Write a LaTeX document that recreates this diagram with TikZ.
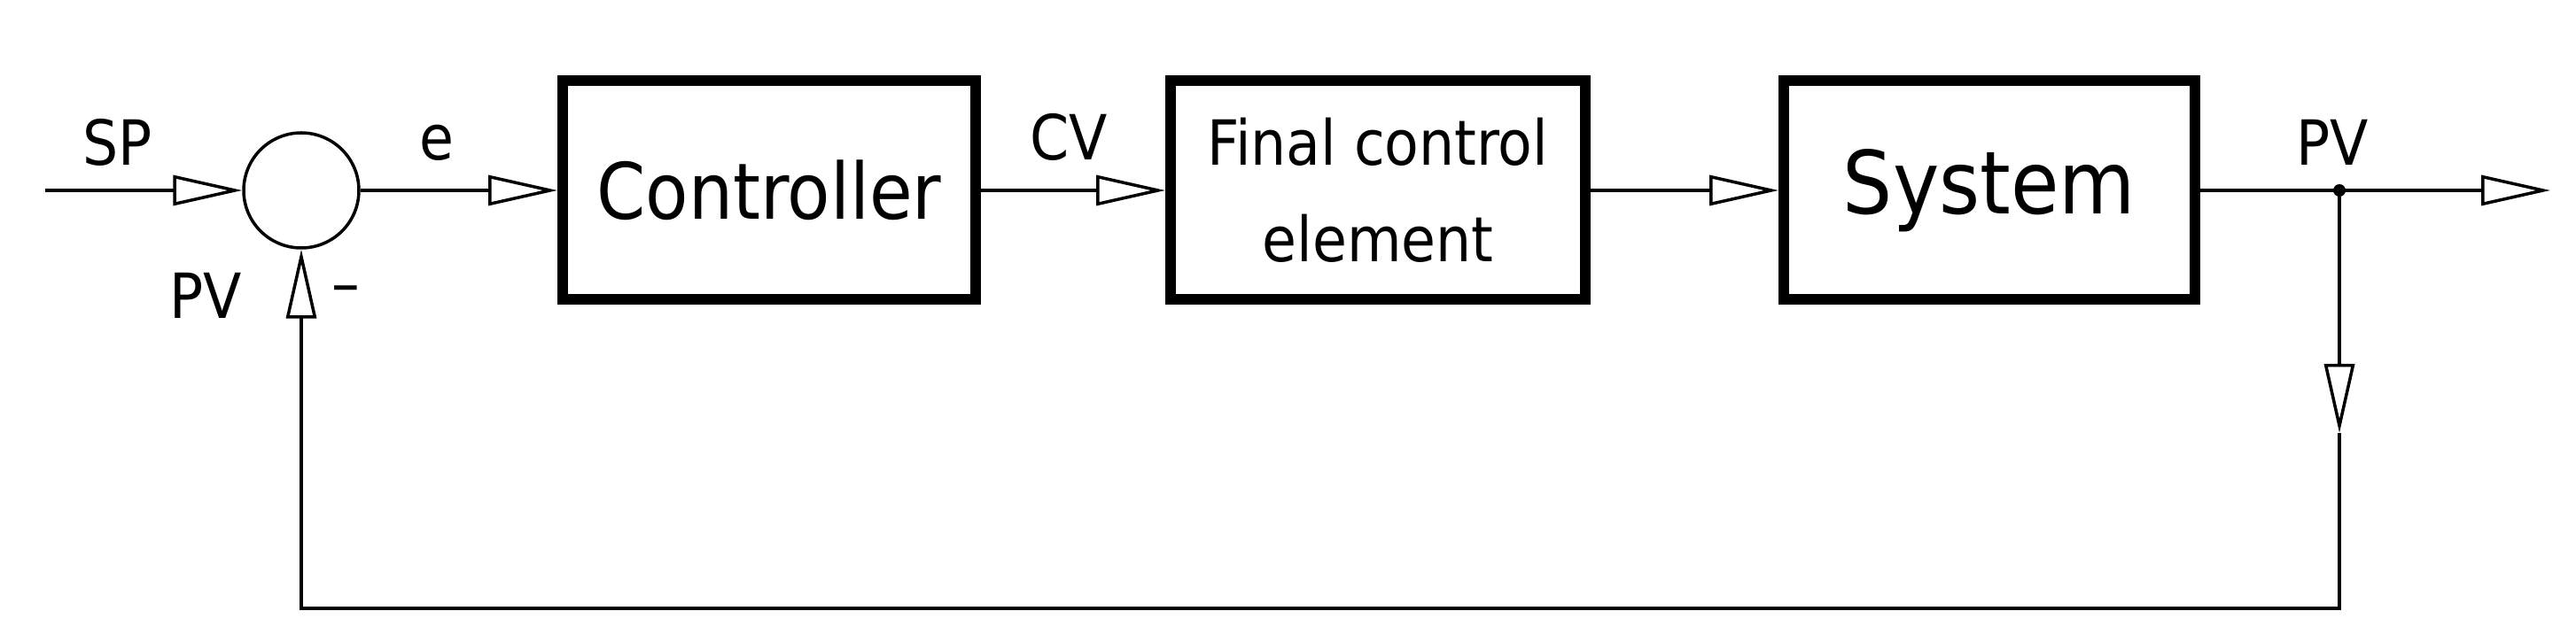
\documentclass[tikz,border=0pt]{standalone}
\usepackage{fontspec}
\setmainfont{DejaVu Sans Condensed}
\usetikzlibrary{arrows.meta}
\begin{document}
\begin{tikzpicture}[
  blk/.style={draw,line width=0.12cm,minimum height=2.47cm,inner sep=0pt,align=center},
  conn/.style={line width=0.045cm,-{Triangle[open,length=0.78cm,width=0.34cm,line width=0.035cm]}},
  fb/.style={line width=0.035cm},
  lbl/.style={font=\fontsize{20}{24}\selectfont,inner sep=0pt}
]
\useasboundingbox (0,0) rectangle (29.07,-7.25);
\node[draw,circle,minimum size=1.30cm,line width=0.035cm,inner sep=0pt] (sum) at (3.40,-2.15) {};
\node[blk,minimum width=4.66cm,font=\fontsize{25}{28}\selectfont] (ctrl) at (8.68,-2.15) {Controller};
\node[blk,minimum width=4.68cm,font=\fontsize{20}{31}\selectfont] (fce) at (15.55,-2.15) {Final control\\element};
\node[blk,minimum width=4.64cm,font=\fontsize{28}{30}\selectfont] (sys) at (22.45,-2.15) {System};
\coordinate (start) at (0.51,-2.15);
\coordinate (j) at (26.40,-2.15);
\coordinate (out) at (28.78,-2.15);
\coordinate (m) at (26.40,-4.89);
\coordinate (br) at (26.40,-6.87);
\coordinate (bl) at (3.40,-6.87);
\draw[conn] (start) -- (sum.west);
\draw[conn] (sum.east) -- (ctrl.west);
\draw[conn] (ctrl.east) -- (fce.west);
\draw[conn] (fce.east) -- (sys.west);
\draw[conn] (sys.east) -- (out);
\fill (j) circle (0.07);
\draw[fb,-{Triangle[open,length=0.78cm,width=0.34cm,line width=0.035cm]}] (j) -- (m);
\draw[fb,-{Triangle[open,length=0.78cm,width=0.34cm,line width=0.035cm]}] (m) -- (br) -- (bl) -- (sum.south);
\node[lbl] (sp) at (1.33,-1.61) {SP};
\node[lbl] (e) at (4.93,-1.61) {e};
\node[lbl] (cv) at (12.06,-1.55) {CV};
\node[lbl] (pvr) at (26.32,-1.61) {PV};
\node[lbl] (pvl) at (2.32,-3.34) {PV};
\node[lbl] (minus) at (3.90,-3.34) {–};
\end{tikzpicture}
\end{document}
